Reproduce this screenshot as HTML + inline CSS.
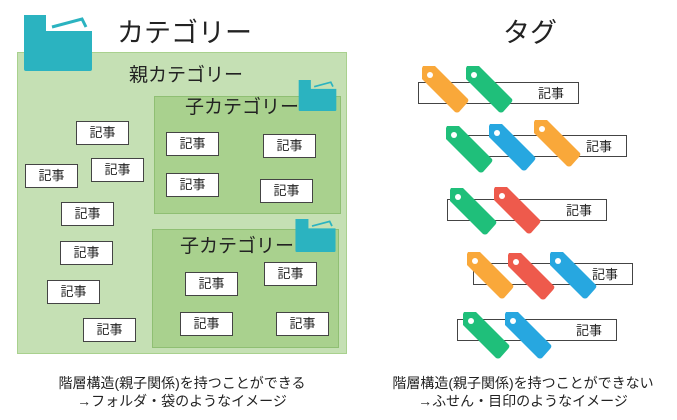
<!DOCTYPE html>
<html><head><meta charset="utf-8"><style>
body{margin:0;width:677px;height:420px;background:#fff;position:relative;overflow:hidden;font-family:"Liberation Sans","Noto Sans CJK JP",sans-serif;color:#222}
.a{position:absolute}
.b{position:absolute;width:51px;height:22px;border:1px solid #444;background:#fff;font-size:13px;line-height:22px;text-align:center}
.r{position:absolute;height:22px;border:1px solid #444;background:#fff;font-size:13px;line-height:22px;text-align:right;padding-right:14px;box-sizing:border-box}
.t{position:absolute;font-size:14px;text-align:center;line-height:18px;width:340px}
</style></head><body>
<div class="a" style="left:17px;top:52px;width:328px;height:300px;background:#c5e0b4;border:1px solid #a9d18e"></div>
<div class="a" style="left:154px;top:96px;width:185px;height:116px;background:#a9d18e;border:1px solid #8fbf73"></div>
<div class="a" style="left:152px;top:229px;width:185px;height:117px;background:#a9d18e;border:1px solid #8fbf73"></div>
<svg class="a" style="left:0;top:0" width="677" height="420">
<defs>
<symbol id="f" viewBox="0 0 68 56"><path d="M0 0H22V16H68V54Q68 56 66 56H2Q0 56 0 54Z" fill="#2bb3c0"/><path d="M28 12L58 4 62 12" stroke="#2bb3c0" stroke-width="3" fill="none"/></symbol>
<symbol id="g" viewBox="0 0 48 48"><path d="M2 0H14L47 33Q48 35 46 37L38 46Q36 47 34 46L1 13V2Z" /><circle cx="9" cy="9" r="3" fill="#fff"/></symbol>
</defs>
<use href="#f" x="24" y="15" width="68" height="56"/>
<use href="#f" x="297" y="80" width="41" height="31"/>
<use href="#f" x="295" y="219" width="41" height="33"/>
</svg>
<div class="a" style="left:117px;top:11px;font-size:27px">カテゴリー</div>
<div class="a" style="left:503px;top:11px;font-size:27px">タグ</div>
<div class="a" style="left:129px;top:60px;font-size:19px">親カテゴリー</div>
<div class="a" style="left:185px;top:92px;font-size:19px">子カテゴリー</div>
<div class="a" style="left:180px;top:231px;font-size:19px">子カテゴリー</div>
<div class="b" style="left:76px;top:121px">記事</div>
<div class="b" style="left:25px;top:164px">記事</div>
<div class="b" style="left:91px;top:158px">記事</div>
<div class="b" style="left:61px;top:202px">記事</div>
<div class="b" style="left:60px;top:241px">記事</div>
<div class="b" style="left:47px;top:280px">記事</div>
<div class="b" style="left:83px;top:318px">記事</div>
<div class="b" style="left:166px;top:132px">記事</div>
<div class="b" style="left:263px;top:134px">記事</div>
<div class="b" style="left:166px;top:173px">記事</div>
<div class="b" style="left:260px;top:179px">記事</div>
<div class="b" style="left:185px;top:272px">記事</div>
<div class="b" style="left:264px;top:262px">記事</div>
<div class="b" style="left:180px;top:312px">記事</div>
<div class="b" style="left:276px;top:312px">記事</div>
<div class="r" style="left:418px;top:82px;width:161px">記事</div>
<div class="r" style="left:468px;top:135px;width:159px">記事</div>
<div class="r" style="left:447px;top:199px;width:160px">記事</div>
<div class="r" style="left:473px;top:263px;width:160px">記事</div>
<div class="r" style="left:457px;top:319px;width:160px">記事</div>
<svg class="a" style="left:0;top:0" width="677" height="420">
<use href="#g" x="421" y="66" width="48" height="48" fill="#f9a83a"/>
<use href="#g" x="465" y="66" width="48" height="48" fill="#1fbf7a"/>
<use href="#g" x="445" y="126" width="48" height="48" fill="#1fbf7a"/>
<use href="#g" x="488" y="124" width="48" height="48" fill="#27a7e0"/>
<use href="#g" x="533" y="120" width="48" height="48" fill="#f9a83a"/>
<use href="#g" x="449" y="188" width="48" height="48" fill="#1fbf7a"/>
<use href="#g" x="493" y="187" width="48" height="48" fill="#ee5a4c"/>
<use href="#g" x="466" y="252" width="48" height="48" fill="#f9a83a"/>
<use href="#g" x="507" y="253" width="48" height="48" fill="#ee5a4c"/>
<use href="#g" x="549" y="252" width="48" height="48" fill="#27a7e0"/>
<use href="#g" x="462" y="312" width="48" height="48" fill="#1fbf7a"/>
<use href="#g" x="504" y="312" width="48" height="48" fill="#27a7e0"/>
</svg>
<div class="t" style="left:12px;top:374px">階層構造(親子関係)を持つことができる<br>→フォルダ・袋のようなイメージ</div>
<div class="t" style="left:353px;top:374px">階層構造(親子関係)を持つことができない<br>→ふせん・目印のようなイメージ</div>
</body></html>
